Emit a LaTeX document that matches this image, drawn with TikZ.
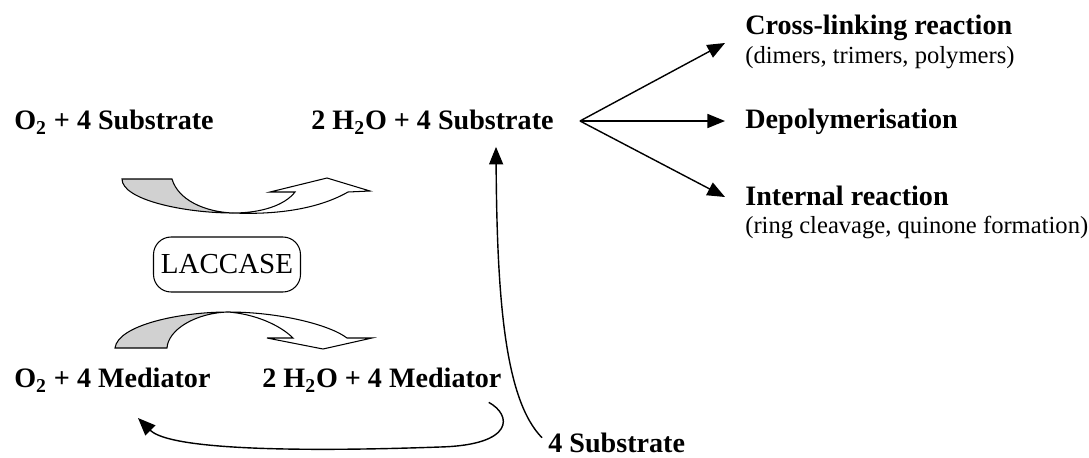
\documentclass[tikz,border=0pt]{standalone}
\usepackage{fontspec}
\setmainfont{Liberation Serif}
\usetikzlibrary{arrows.meta}

\tikzset{
	spec/.style={font=\fontsize{16}{19}\selectfont\bfseries, inner sep=0pt, anchor=west},
	note/.style={font=\fontsize{14}{17}\selectfont, inner sep=0pt, anchor=west},
	link/.style={line width=0.8pt, -{Triangle[length=10pt,width=8pt]}},
	grey part/.style={draw, line width=0.6pt, fill=black!18},
	white part/.style={draw, line width=0.6pt, fill=white}
}

\begin{document}
\begin{tikzpicture}[x=0.02cm, y=-0.02cm]
	\useasboundingbox (0,0) rectangle (1089,457);

	% substrate side
	\node[spec] (oxsub) at (14,122) {O\textsubscript{2} + 4 Substrate};
	\node[spec] (redsub) at (311,122) {2 H\textsubscript{2}O + 4 Substrate};

	% products
	\node[spec] (cross) at (745,28) {Cross-linking reaction};
	\node[note] (crossnote) at (745,58) {(dimers, trimers, polymers)};
	\node[spec] (depoly) at (745,122) {Depolymerisation};
	\node[spec] (internal) at (745,196) {Internal reaction};
	\node[note] (internalnote) at (745,227) {(ring cleavage, quinone formation)};

	% enzyme
	\node[draw, rounded corners=10pt, line width=0.6pt, minimum width=2.94cm, minimum height=1.1cm,
		font=\fontsize{16.5}{20}\selectfont] (laccase) at (227,264.5) {LACCASE};

	% mediator side
	\node[spec] (oxmed) at (14,380) {O\textsubscript{2} + 4 Mediator};
	\node[spec] (redmed) at (262,380) {2 H\textsubscript{2}O + 4 Mediator};
	\node[spec] (sub) at (548,443) {4 Substrate};

	% fork of the reactions
	\coordinate (fork) at (580,121);
	\coordinate (toCross) at (725,43);
	\coordinate (toDepoly) at (725,121);
	\coordinate (toInternal) at (725,197);
	\draw[link] (fork) -- (toCross);
	\draw[link] (fork) -- (toDepoly);
	\draw[link] (fork) -- (toInternal);

	% upper curved arrow
	\path[grey part] (122,179) -- (172,179) .. controls (178,200) and (205,212) .. (233,213)
		.. controls (185,213) and (122,200) .. cycle;
	\path[white part] (233,213) .. controls (262,213) and (285,205) .. (295,192) -- (270,192)
		-- (327,178) -- (370,191) -- (348,192) .. controls (320,208) and (280,215) .. cycle;

	% lower curved arrow
	\path[grey part] (115,348) .. controls (118,325) and (180,312) .. (228,312)
		.. controls (195,313) and (168,330) .. (167,348) -- cycle;
	\path[white part] (228,312) .. controls (280,312) and (330,325) .. (347,338) -- (372,338)
		-- (323,349) -- (267,338) -- (293,338) .. controls (280,325) and (255,314) .. cycle;

	% recycling
	\draw[link] ([xshift=-0.12cm,yshift=-0.1cm]sub.north west) .. controls (505,400) and (497,300) .. ([yshift=-0.25cm]redsub.south -| 496,0);
	\draw[link] (redmed.south east) ++(-0.26cm,-0.2cm) .. controls (512,415) and (515,445) .. (440,447)
		.. controls (300,452) and (170,450) .. (138,418);
\end{tikzpicture}
\end{document}
